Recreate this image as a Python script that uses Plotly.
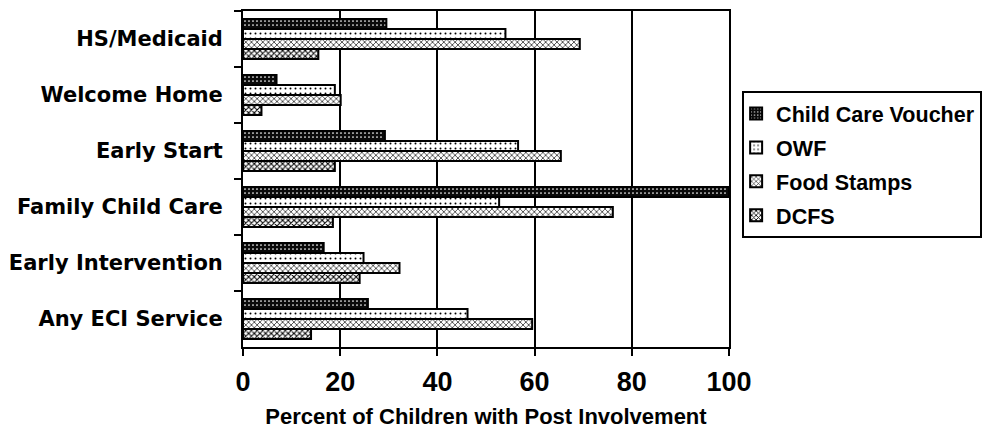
import plotly.graph_objects as go

categories = ["HS/Medicaid", "Welcome Home", "Early Start", "Family Child Care",
              "Early Intervention", "Any ECI Service"]
child_care_voucher = [29.5, 6.9, 29.2, 100.0, 16.6, 25.7]
owf = [54.0, 18.9, 56.6, 52.7, 24.8, 46.2]
food_stamps = [69.3, 20.1, 65.4, 76.1, 32.2, 59.5]
dcfs = [15.5, 3.8, 18.9, 18.5, 24.0, 14.0]
x_ticks = [0, 20, 40, 60, 80, 100]

FONT = "Liberation Sans, Arial, sans-serif"
WIDE = "DejaVu Sans, Liberation Sans, sans-serif"

series = [
    ("Child Care Voucher", child_care_voucher,
     dict(shape=".", bgcolor="#0a0a0a", fgcolor="#ffffff", size=4, solidity=0.15, fillmode="replace")),
    ("OWF", owf,
     dict(shape=".", bgcolor="#ffffff", fgcolor="#000000", size=5, solidity=0.12, fillmode="replace")),
    ("Food Stamps", food_stamps,
     dict(shape="x", bgcolor="#ffffff", fgcolor="#000000", size=4, solidity=0.3, fillmode="replace")),
    ("DCFS", dcfs,
     dict(shape="x", bgcolor="#ffffff", fgcolor="#000000", size=4, solidity=0.45, fillmode="replace")),
]

fig = go.Figure()
for i, (name, vals, pat) in enumerate(series):
    fig.add_trace(go.Bar(
        name=name, y=categories, x=vals, orientation="h",
        legendgroup=f"g{i}",
        marker=dict(color=pat["bgcolor"], line=dict(color="#000000", width=2), pattern=pat),
    ))

fig.update_layout(
    width=982, height=438,
    margin=dict(l=243, r=253, t=11, b=91, autoexpand=False),
    paper_bgcolor="white", plot_bgcolor="white",
    barmode="group", bargap=0.29, bargroupgap=0.0,
    font=dict(family=FONT, color="#000000", weight="bold"),
    showlegend=True,
    legend=dict(
        x=1.027, xanchor="left", y=0.762, yanchor="top",
        bordercolor="#000000", borderwidth=2, bgcolor="white",
        font=dict(family=FONT, size=21.5, weight="bold"),
        traceorder="grouped", tracegroupgap=3,
        itemsizing="constant", indentation=-8,
    ),
    xaxis=dict(
        range=[0, 100], tickvals=x_ticks, ticktext=[str(v) for v in x_ticks],
        showgrid=True, gridcolor="#000000", gridwidth=2,
        showline=True, linecolor="#000000", linewidth=2, mirror=True,
        ticks="outside", ticklen=7, tickwidth=2, tickcolor="#000000",
        tickfont=dict(family=FONT, size=27, weight="bold"),
        ticklabelstandoff=3,
        zeroline=False,
        title=dict(text="Percent of Children with Post Involvement",
                   font=dict(family=FONT, size=22, weight="bold"), standoff=12),
    ),
    yaxis=dict(
        autorange="reversed", type="category",
        showline=True, linecolor="#000000", linewidth=2, mirror=True,
        ticks="outside", ticklen=7, tickwidth=2, tickcolor="#000000",
        tickson="boundaries", showgrid=False,
        tickfont=dict(family=WIDE, size=21, weight="bold"),
        ticklabelstandoff=14,
    ),
)

fig.write_html("out.html")
